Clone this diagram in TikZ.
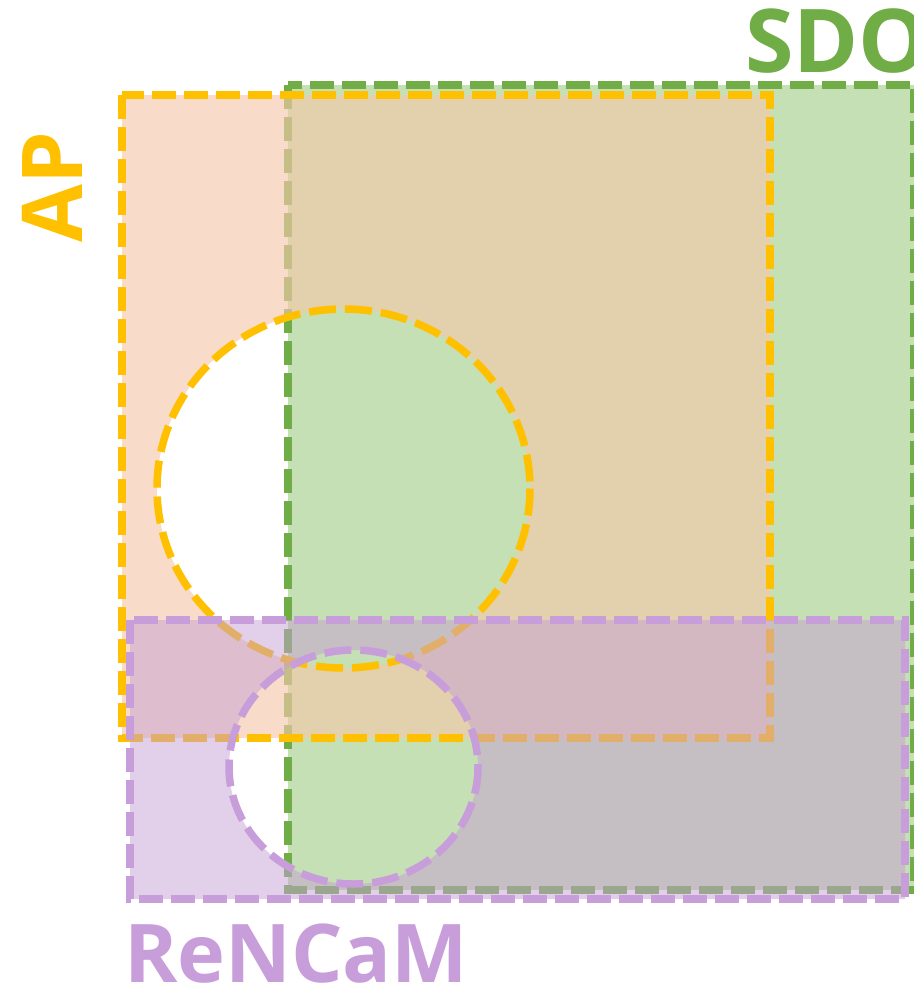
\documentclass[tikz,border=0pt]{standalone}
\usepackage{fontspec}
\newfontfamily\lblfont{Open Sans}
\definecolor{sdogreen}{RGB}{112,173,71}
\definecolor{sdofill}{RGB}{197,224,180}
\definecolor{aporange}{RGB}{255,192,0}
\definecolor{apfill}{RGB}{244,200,170}
\definecolor{renpurple}{RGB}{200,158,218}
\definecolor{renfill}{RGB}{197,160,213}
\tikzset{
  rectdash/.style={line width=7.5pt, dash pattern=on 24pt off 8pt},
  circdash/.style={line width=7.5pt, dash pattern=on 27pt off 9pt},
  bigtext/.style={font=\lblfont\bfseries\fontsize{#1}{#1}\selectfont, inner sep=0pt}
}
\begin{document}
\begin{tikzpicture}[x=1pt,y=-1pt]
\useasboundingbox (0,0) rectangle (913,990);
% SDO (green)
\fill[sdofill] (288,85) rectangle (914,890);
\draw[sdogreen, rectdash] (288,85) rectangle (914,890);
% AP (orange) with hole
\fill[apfill, fill opacity=0.65, even odd rule] (122,95) rectangle (770,738)
  (343.5,488.5) ellipse [x radius=186.5, y radius=179.5];
\draw[aporange, rectdash] (122,95) rectangle (770,738);
\draw[aporange, circdash] (343.5,488.5) ellipse [x radius=186.5, y radius=179.5];
% ReNCaM (purple) with hole
\fill[renfill, fill opacity=0.5, even odd rule] (130,620) rectangle (905,899)
  (353.5,767) ellipse [x radius=124.5, y radius=117];
\draw[renpurple, rectdash] (130,620) rectangle (905,899);
\draw[renpurple, circdash] (353.5,767) ellipse [x radius=124.5, y radius=117];
% labels
\node[bigtext=88, text=sdogreen, anchor=base west] (sdo) at (745,72) {SDO};
\node[bigtext=84, text=aporange, anchor=base west, rotate=90] (ap) at (82,243) {AP};
\node[bigtext=81, text=renpurple, anchor=base west] (rencam) at (124,982) {ReNCaM};
\end{tikzpicture}
\end{document}
